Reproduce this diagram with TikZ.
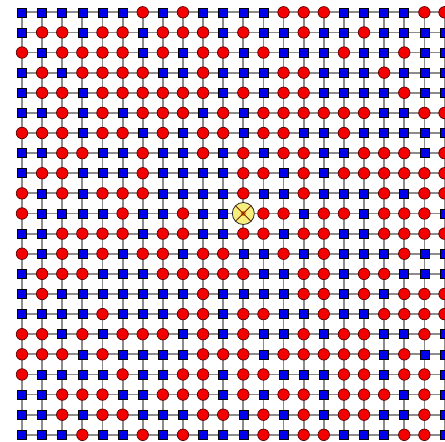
\documentclass[tikz,border=0pt]{standalone}
\usetikzlibrary{backgrounds}
\definecolor{sqblue}{RGB}{0,0,235}
\definecolor{ccred}{RGB}{245,0,0}
\definecolor{ccedge}{RGB}{90,0,0}
\definecolor{gline}{RGB}{140,140,140}
\definecolor{markfill}{RGB}{246,238,125}
\definecolor{markx}{RGB}{120,40,0}
\tikzset{
  siteS/.style={rectangle, draw=black, line width=0.6pt, fill=sqblue, minimum size=9pt, inner sep=0pt},
  siteC/.style={circle, draw=ccedge, line width=0.7pt, fill=ccred, minimum size=11.5pt, inner sep=0pt},
  bond/.style={draw=gline, line width=1.8pt},
  marker/.style={circle, draw=black!85, line width=0.8pt, fill=markfill, minimum size=22pt, inner sep=0pt},
  markercore/.style={circle, fill=orange!85!red, minimum size=5pt, inner sep=0pt},
  markerx/.style={draw=markx, line width=0.9pt},
}
\begin{document}
\begin{tikzpicture}[x=1pt,y=-1pt]
\useasboundingbox (0,0) rectangle (445,442);
\foreach \rowlist [count=\r from 0] in {
 {S,S,S,S,S,S,C,S,C,S,S, S,S,C,C,C,S,S,S,S,C,C},
 {S,C,C,S,C,C,S,C,C,C,S, C,S,S,C,S,S,C,S,S,S,S},
 {C,S,C,C,C,C,S,C,S,C,C, S,C,S,S,S,C,S,S,C,S,S},
 {S,C,S,C,C,C,C,S,S,C,S, S,S,C,C,S,S,S,C,S,S,S},
 {S,C,C,S,C,C,C,C,C,C,S, C,S,C,C,S,S,S,S,C,S,S},
 {S,S,C,S,C,S,C,C,C,S,C, S,C,C,C,C,C,C,S,S,C,C},
 {C,C,C,S,C,C,S,C,S,C,C, S,C,C,S,S,C,S,S,S,S,S},
 {S,S,C,C,S,S,C,S,S,C,S, C,S,C,C,S,S,C,C,C,S,C},
 {S,C,C,S,S,S,C,S,S,S,S, C,C,S,C,S,C,C,C,C,C,C},
 {C,S,C,S,C,C,C,S,S,S,S, C,S,S,C,S,S,S,C,S,C,C},
 {C,S,S,S,S,C,S,S,C,S,S, C,C,C,S,C,C,S,C,C,C,S},
 {S,S,C,C,C,C,S,C,C,S,S, C,C,S,C,C,S,S,C,C,C,C},
 {C,S,C,S,C,S,C,C,S,C,C, S,S,C,S,C,S,S,S,C,S,S},
 {S,C,C,C,S,S,S,C,C,C,C, C,S,S,C,C,S,C,C,S,S,S},
 {S,C,S,S,S,S,S,S,S,C,S, S,S,S,C,C,S,C,S,C,C,C},
 {S,S,S,S,C,S,S,S,C,C,S, C,C,S,S,C,S,S,C,C,C,C},
 {C,C,S,C,S,C,C,C,S,C,S, C,S,S,C,S,C,C,S,S,C,S},
 {C,C,C,S,C,S,S,S,S,C,C, C,S,C,C,C,C,C,S,C,S,S},
 {C,S,S,S,S,C,S,S,C,C,S, C,C,S,S,S,C,C,S,C,C,S},
 {S,S,C,C,C,S,S,C,C,C,S, C,S,C,C,S,C,C,C,S,C,S},
 {S,S,C,S,C,C,S,S,S,C,C, S,C,S,C,S,C,C,S,S,C,S},
 {S,S,S,C,S,S,C,S,C,S,S, S,C,S,C,C,S,S,S,C,C,S}}{
  \foreach \t [count=\c from 0] in \rowlist {
    \node[site\t] (n-\r-\c) at ({22+20.12*\c},{12.3+20.12*\r}) {};
  }
}
\begin{scope}[on background layer]
  \foreach \r in {0,...,21}{
    \foreach \c [evaluate=\c as \cn using int(\c+1)] in {0,...,20}{
      \draw[bond] (n-\r-\c.center) -- (n-\r-\cn.center);
      \draw[bond] (n-\c-\r.center) -- (n-\cn-\r.center);
    }
  }
\end{scope}
\node[marker] (mk) at (n-10-11) {};
\node[markercore] (mkc) at (mk) {};
\draw[markerx] (mk.north west) -- (mk.south east);
\draw[markerx] (mk.north east) -- (mk.south west);
\end{tikzpicture}
\end{document}
